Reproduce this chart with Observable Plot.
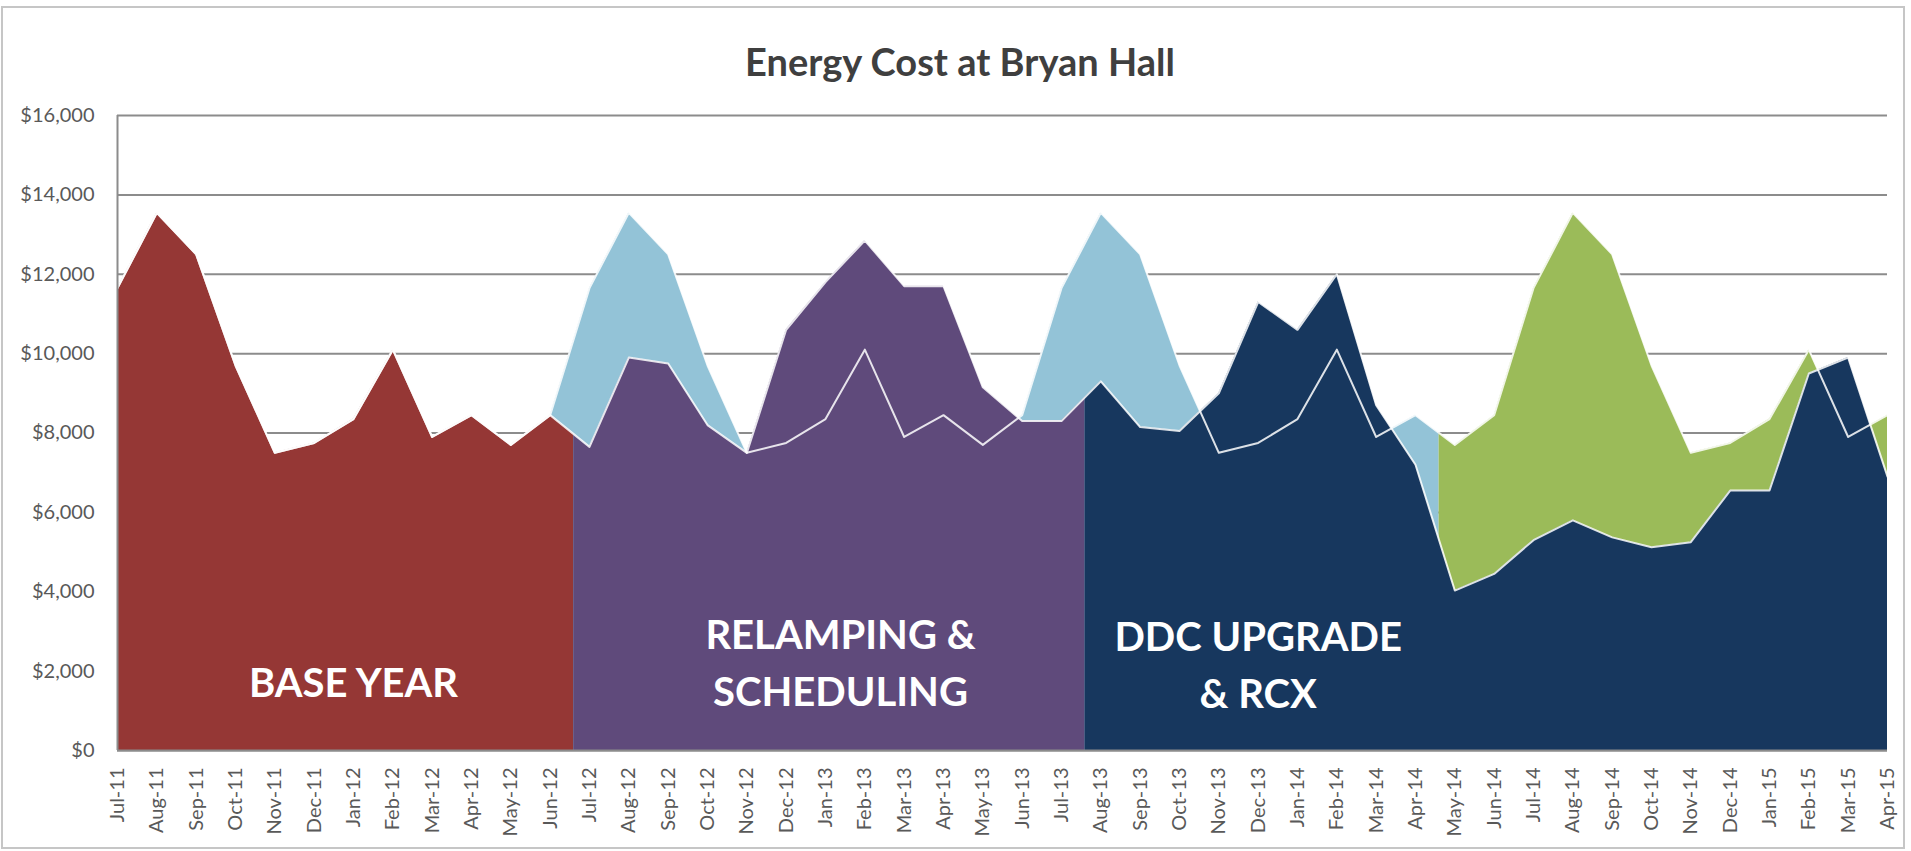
<!DOCTYPE html>
<html>
<head>
<meta charset="utf-8">
<script src="https://cdn.jsdelivr.net/npm/d3@7"></script>
<script src="https://cdn.jsdelivr.net/npm/@observablehq/plot@0.6"></script>
<style>
html, body { margin: 0; padding: 0; background: #fff; }
#wrap { position: relative; width: 1911px; height: 851px; overflow: hidden; font-family: Lato, "Open Sans", sans-serif; }
#frame { position: absolute; left: 1px; top: 6px; width: 1904px; height: 843px; border: 2px solid #c6c6c6; box-sizing: border-box; pointer-events: none; }
#title { height: 100px; box-sizing: border-box; padding-top: 42px; padding-left: 9px; text-align: center; font-size: 38px; font-weight: 700; color: #3f3f3f; line-height: 38px; }
</style>
</head>
<body>
<div id="wrap">
  <div id="title">Energy Cost at Bryan Hall</div>
  <div id="chart"></div>
  <div id="frame"></div>
</div>
<script>
// ---- data ----
const months = ["Jul-11","Aug-11","Sep-11","Oct-11","Nov-11","Dec-11","Jan-12","Feb-12","Mar-12","Apr-12","May-12","Jun-12",
  "Jul-12","Aug-12","Sep-12","Oct-12","Nov-12","Dec-12","Jan-13","Feb-13","Mar-13","Apr-13","May-13","Jun-13",
  "Jul-13","Aug-13","Sep-13","Oct-13","Nov-13","Dec-13","Jan-14","Feb-14","Mar-14","Apr-14","May-14","Jun-14",
  "Jul-14","Aug-14","Sep-14","Oct-14","Nov-14","Dec-14","Jan-15","Feb-15","Mar-15","Apr-15"];

// actual monthly energy cost ($)
const actual = [11650,13550,12500,9700,7500,7750,8350,10100,7900,8450,7700,8450,
  7650,9900,9750,8200,7500,10600,11800,12850,11700,11700,9150,8300,
  8300,9300,8150,8050,9000,11300,10600,12000,8700,7200,4030,4450,
  5300,5800,5370,5120,5250,6550,6550,9500,9900,6900];

// base-year cost carried forward ($)
const baseline = [11650,13550,12500,9700,7500,7750,8350,10100,7900,8450,7700,8450,
  11650,13550,12500,9700,7500,7750,8350,10100,7900,8450,7700,8450,
  11650,13550,12500,9700,7500,7750,8350,10100,7900,8450,7700,8450,
  11650,13550,12500,9700,7500,7750,8350,10100,7900,8450];

// periods (by month)
const segments = [
  {name: "base", first: "Jul-11", last: "Jun-12"},
  {name: "relamp", first: "Jul-12", last: "Jul-13"},
  {name: "ddc", first: "Aug-13", last: "Apr-15"}
];
const baselinePeriods = [
  {name: "savings1", first: "Jul-11", last: "Apr-14"},
  {name: "savings2", first: "May-14", last: "Apr-15"}
];
const yTicks = [0,2000,4000,6000,8000,10000,12000,14000,16000];
const labels = [
  {text: "BASE YEAR", month: "Jan-12", value: 1340},
  {text: "RELAMPING &\nSCHEDULING", month: "Jan-13", value: 1130},
  {text: "DDC UPGRADE\n& RCX", month: "Dec-13", value: 1080}
];

// ---- styles ----
const segColors = {base: "#953735", relamp: "#5f4a7b", ddc: "#17375e"};
const baseColors = {savings1: "#93c3d7", savings2: "#9bbb59"};
const gridColor = "#8c8c8c";
const tickColor = "#595959";
const boundaryLead = 0.4; // colour change falls this far (in months) before a period's first month

const mi = m => months.indexOf(m);
const rows = months.map((m, i) => ({i, month: m, actual: actual[i], baseline: baseline[i]}));
const idx = months.map((_, i) => i);

const W = 1911, H = 751;
const marks = [
  Plot.ruleY(yTicks, {stroke: gridColor, strokeWidth: 2})
];
for (const p of baselinePeriods) {
  marks.push(Plot.areaY(rows, {x: "i", y: "baseline", fill: baseColors[p.name], ariaDescription: "clip-" + p.name}));
}
for (const s of segments) {
  marks.push(Plot.areaY(rows, {x: "i", y: "actual", fill: segColors[s.name], ariaDescription: "clip-" + s.name}));
}
marks.push(
  Plot.lineY(rows, {x: "i", y: "baseline", stroke: "#ffffff", strokeWidth: 2, strokeOpacity: 0.85}),
  Plot.lineY(rows, {x: "i", y: "actual", stroke: "#ffffff", strokeWidth: 2, strokeOpacity: 0.85}),
  Plot.ruleY([0], {stroke: gridColor, strokeWidth: 2}),
  Plot.ruleX([0], {stroke: gridColor, strokeWidth: 2}),
  Plot.axisY({ticks: yTicks, tickFormat: d3.format("$,.0f"), tickSize: 0, tickPadding: 23, fontSize: 20, fill: tickColor, label: null}),
  Plot.axisX({ticks: idx, tickFormat: i => months[i], tickRotate: -90, tickSize: 0, tickPadding: 17, fontSize: 20, fill: tickColor, label: null})
);
labels.forEach((l, k) => {
  marks.push(Plot.text([l], {
    x: d => mi(d.month), y: "value", text: "text",
    fill: "white", fontSize: 40, fontWeight: 700, lineAnchor: "bottom", lineHeight: 1.42,
    textAnchor: "middle", dx: k === 1 ? 15 : 0
  }));
});

const chart = Plot.plot({
  width: W, height: H,
  marginTop: 15, marginBottom: 101, marginLeft: 117, marginRight: 24,
  x: {type: "linear", domain: [0, months.length - 1], label: null},
  y: {domain: [0, 16000], label: null},
  style: {fontFamily: "Lato, 'Open Sans', sans-serif", background: "transparent", overflow: "visible"},
  marks
});
document.getElementById("chart").appendChild(chart);

// clip each coloured period where the colour changes between neighbouring months
const xs = chart.scale("x");
const svg = d3.select(chart);
const defs = svg.insert("defs", ":first-child");
function clipTo(p) {
  const x0 = xs.apply(mi(p.first) - boundaryLead), x1 = xs.apply(mi(p.last) + 1 - boundaryLead);
  const id = "cp-" + p.name;
  defs.append("clipPath").attr("id", id).append("rect")
    .attr("x", x0).attr("y", 0).attr("width", x1 - x0).attr("height", H);
  svg.selectAll(`g[aria-description="clip-${p.name}"]`).attr("clip-path", `url(#${id})`);
}
baselinePeriods.forEach(clipTo);
segments.forEach(clipTo);
</script>
</body>
</html>
